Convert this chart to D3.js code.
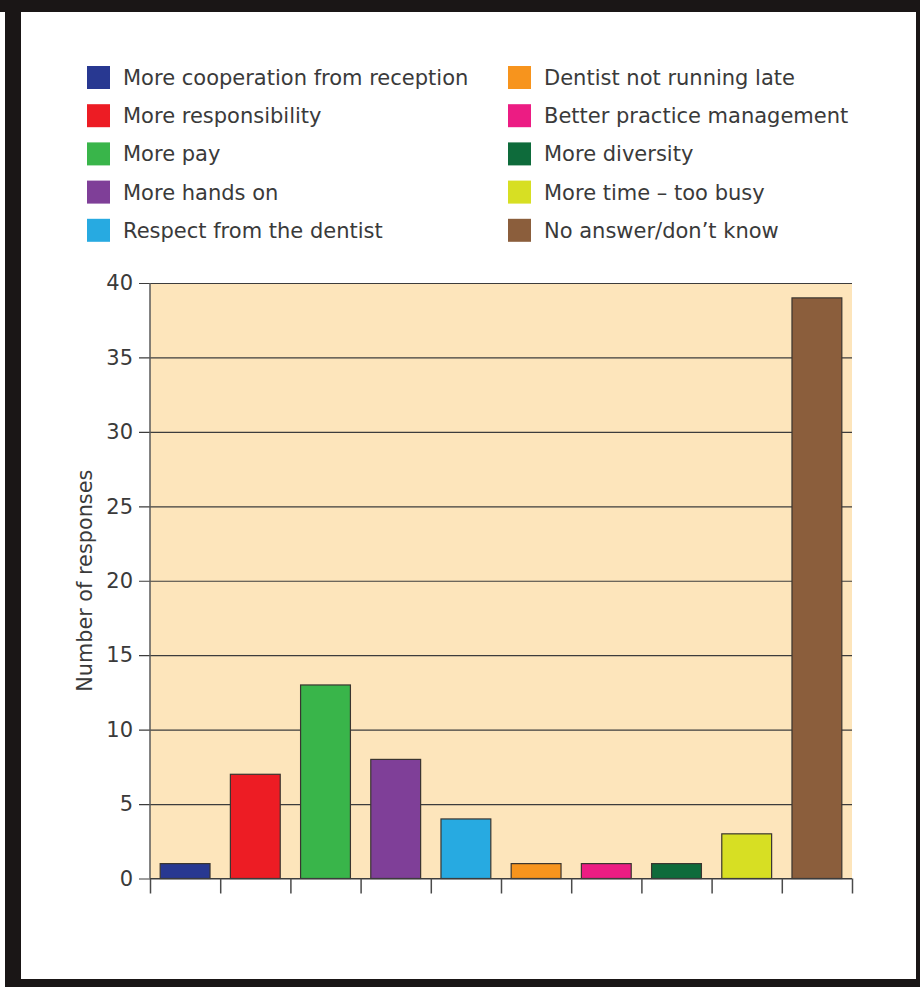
<!DOCTYPE html>
<html>
<head>
<meta charset="utf-8">
<script src="https://cdn.jsdelivr.net/npm/d3@7"></script>
<style>
  html, body { margin: 0; padding: 0; background: #fff; }
  svg { display: block; }
  text { font-family: "DejaVu Sans", sans-serif; fill: #3a3a3a; }
</style>
</head>
<body>
<svg id="chart" width="920" height="987"></svg>
<script>
// Survey answers: what would improve the job
const categories = [
  "More cooperation from reception",
  "More responsibility",
  "More pay",
  "More hands on",
  "Respect from the dentist",
  "Dentist not running late",
  "Better practice management",
  "More diversity",
  "More time \u2013 too busy",
  "No answer/don\u2019t know"
];
const responses = [1, 7, 13, 8, 4, 1, 1, 1, 3, 39];
const barColors = [
  "#283891", "#ed1c24", "#39b54a", "#7f3f98", "#27aae1",
  "#f7941d", "#ec1c83", "#0e6b3b", "#d7df23", "#8b5e3c"
];
const yTicks = [0, 5, 10, 15, 20, 25, 30, 35, 40];
const yTitle = "Number of responses";

const svg = d3.select("#chart");

// framed page
svg.append("rect").attr("x", 0).attr("y", 0).attr("width", 920).attr("height", 987).attr("fill", "#fff");
svg.append("rect").attr("x", 5).attr("y", 0).attr("width", 915).attr("height", 987).attr("fill", "#1a1616");
svg.append("rect").attr("x", 0).attr("y", 0).attr("width", 5).attr("height", 12).attr("fill", "#1a1616");
svg.append("rect").attr("x", 21).attr("y", 12).attr("width", 895).attr("height", 967).attr("fill", "#fff");

const plot = { left: 150, right: 852, top: 283, bottom: 878.5 };

const x = d3.scaleBand()
  .domain(categories)
  .range([plot.left, plot.right])
  .paddingInner(0.29)
  .paddingOuter(0.145);

const y = d3.scaleLinear()
  .domain([0, 40])
  .range([plot.bottom, plot.top]);

// plot background
svg.append("rect")
  .attr("x", plot.left).attr("y", plot.top)
  .attr("width", plot.right - plot.left).attr("height", plot.bottom - plot.top)
  .attr("fill", "#fde5bb");

// y axis with gridlines running across the plot
const yAxis = svg.append("g")
  .attr("transform", `translate(${plot.left},0)`)
  .call(d3.axisLeft(y).tickValues(yTicks).tickSize(-(plot.right - plot.left)).tickPadding(17));
yAxis.select(".domain").remove();
yAxis.selectAll(".tick line")
  .attr("x1", -11)
  .attr("stroke", "#3c3c3c")
  .attr("stroke-width", 1.2);
yAxis.selectAll(".tick text")
  .attr("font-size", 21)
  .attr("font-family", "DejaVu Sans, sans-serif")
  .attr("fill", "#3a3a3a");

// bars
svg.append("g").selectAll("rect")
  .data(categories)
  .join("rect")
  .attr("x", d => x(d))
  .attr("y", (d, i) => y(responses[i]))
  .attr("width", x.bandwidth())
  .attr("height", (d, i) => y(0) - y(responses[i]))
  .attr("fill", (d, i) => barColors[i])
  .attr("stroke", "#3a3530")
  .attr("stroke-width", 1.2);

// left axis line
svg.append("line")
  .attr("x1", plot.left).attr("x2", plot.left)
  .attr("y1", plot.top).attr("y2", plot.bottom)
  .attr("stroke", "#5a5a5a").attr("stroke-width", 1.5);

// baseline and category separators below the plot
const edges = d3.range(categories.length + 1);
const xEdge = d3.scaleLinear().domain([0, categories.length]).range([plot.left, plot.right]);
const xAxis = svg.append("g")
  .attr("transform", `translate(0,${plot.bottom})`)
  .call(d3.axisBottom(xEdge).tickValues(edges).tickSize(15).tickFormat(""));
xAxis.select(".domain").attr("stroke", "#3c3c3c").attr("stroke-width", 1.2).attr("d", `M${plot.left},0H${plot.right}`);
xAxis.selectAll(".tick line").attr("stroke", "#4a4a4a").attr("stroke-width", 1.5);

// y title
svg.append("text")
  .attr("transform", `translate(92,${(plot.top + plot.bottom) / 2}) rotate(-90)`)
  .attr("text-anchor", "middle")
  .attr("font-size", 20.8)
  .text(yTitle);

// legend: two columns of five
const legend = svg.append("g");
const rowGap = 38.2;
categories.forEach((c, i) => {
  const col = Math.floor(i / 5);
  const row = i % 5;
  const lx = col === 0 ? 87 : 508;
  const ly = 66 + row * rowGap;
  legend.append("rect")
    .attr("x", lx).attr("y", ly)
    .attr("width", 23).attr("height", 23)
    .attr("fill", barColors[i]);
  legend.append("text")
    .attr("x", lx + 36).attr("y", ly + 11.5)
    .attr("dy", "0.36em")
    .attr("font-size", 21)
    .text(c);
});
</script>
</body>
</html>
